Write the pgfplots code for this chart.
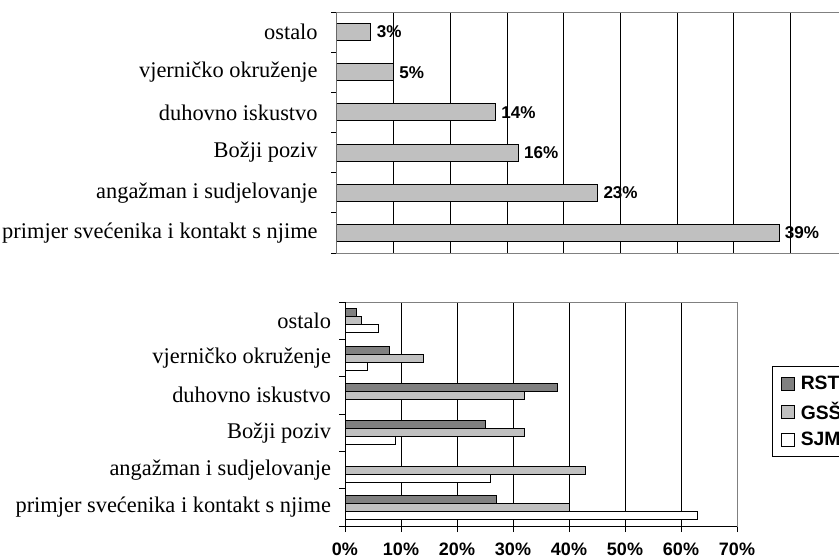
\documentclass[border=0pt]{standalone}
\usepackage{fontspec}
\setmainfont{Liberation Serif}
\setsansfont{Liberation Sans}
\usepackage{pgfplots}
\pgfplotsset{compat=1.18}
\definecolor{rst}{HTML}{808080}
\definecolor{gss}{HTML}{C0C0C0}
\definecolor{frame}{HTML}{808080}
\newcommand{\catfont}{\fontsize{16.8}{17}\selectfont}
\newcommand{\numfont}{\sffamily\bfseries\fontsize{12.8}{13}\selectfont}
\newcommand{\tickfont}{\sffamily\bfseries\fontsize{13.5}{14}\selectfont}
\begin{document}
\begin{tikzpicture}[x=0.75pt,y=0.75pt]
% ---------------- top chart ----------------
\begin{axis}[
  at={(252.75pt,228.75pt)}, anchor=south west, scale only axis,
  width=382.5pt, height=180.75pt,
  xmin=0, xmax=45, ymin=-0.5, ymax=5.5,
  xbar, bar width=12.75pt,
  axis line style={draw=frame, line width=0.75pt},
  xtick={5,10,...,40}, xticklabels={}, xmajorgrids,
  grid style={black, line width=0.75pt}, xtick style={draw=none},
  ytick={-0.5,0.5,...,5.5}, yticklabels={}, ytick pos=left,
  tick align=outside, major tick length=4.5pt,
  ytick style={black, line width=0.75pt},
  extra y ticks={0,1,2,3,4,5},
  extra y tick labels={primjer svećenika i kontakt s njime, angažman i sudjelovanje, Božji poziv, duhovno iskustvo, vjerničko okruženje, ostalo},
  extra y tick style={major tick length=0pt, yticklabel style={font=\catfont, xshift=-11pt}},
  nodes near coords={\pgfmathprintnumber[assume math mode=true]{\pgfplotspointmeta}\%},
  nodes near coords style={font=\numfont, anchor=west, inner sep=1pt, xshift=3pt},
]
\addplot[fill=gss, draw=black, line width=0.75pt] coordinates {(39,0) (23,1) (16,2) (14,3) (5,4) (3,5)};
\draw[black, line width=0.75pt] (rel axis cs:0,0) -- (rel axis cs:0,1);
\end{axis}
% ---------------- bottom chart ----------------
\begin{axis}[
  at={(258.75pt,24pt)}, anchor=south west, scale only axis,
  width=294pt, height=168pt,
  xmin=0, xmax=70, ymin=-0.5, ymax=5.5,
  xbar, bar width=6pt,
  axis line style={draw=frame, line width=0.75pt},
  xtick={0,10,...,70}, xtick pos=left, xmajorgrids,
  grid style={black, line width=0.75pt},
  xticklabel={\pgfmathprintnumber[assume math mode=true]{\tick}\%},
  xticklabel style={font=\tickfont, inner sep=1pt, yshift=-7pt},
  ytick={-0.5,0.5,...,5.5}, yticklabels={}, ytick pos=left,
  tick align=outside, major tick length=4.5pt,
  tick style={black, line width=0.75pt},
  extra y ticks={0,1,2,3,4,5},
  extra y tick labels={primjer svećenika i kontakt s njime, angažman i sudjelovanje, Božji poziv, duhovno iskustvo, vjerničko okruženje, ostalo},
  extra y tick style={major tick length=0pt, yticklabel style={font=\catfont, xshift=-7pt}},
  legend style={at={(rel axis cs:1.09,0.714)}, anchor=north west, draw=black, line width=0.75pt,
    font=\sffamily\bfseries\fontsize{14.5}{14.5}\selectfont, inner xsep=6pt, inner ysep=5pt, row sep=4pt,
    nodes={inner xsep=4.5pt}},
  legend cell align=left,
  legend image code/.code={\draw[#1, line width=0.75pt] (0pt,-4.875pt) rectangle (9.75pt,4.875pt);},
]
\addplot[fill=rst, draw=black, line width=0.75pt, bar shift=6pt] coordinates {(27,0) (0,1) (25,2) (38,3) (8,4) (2,5)};
\addplot[fill=gss, draw=black, line width=0.75pt, bar shift=0pt] coordinates {(40,0) (43,1) (32,2) (32,3) (14,4) (3,5)};
\addplot[fill=white, draw=black, line width=0.75pt, bar shift=-6pt] coordinates {(63,0) (26,1) (9,2) (0,3) (4,4) (6,5)};
\legend{RST, GSŠ, SJM}
\draw[black, line width=0.75pt] (rel axis cs:0,0) -- (rel axis cs:0,1);
\draw[black, line width=0.75pt] (rel axis cs:0,0) -- (rel axis cs:1,0);
\end{axis}
\pgfresetboundingbox
\useasboundingbox (0,0) rectangle (839,558);
\end{tikzpicture}
\end{document}
